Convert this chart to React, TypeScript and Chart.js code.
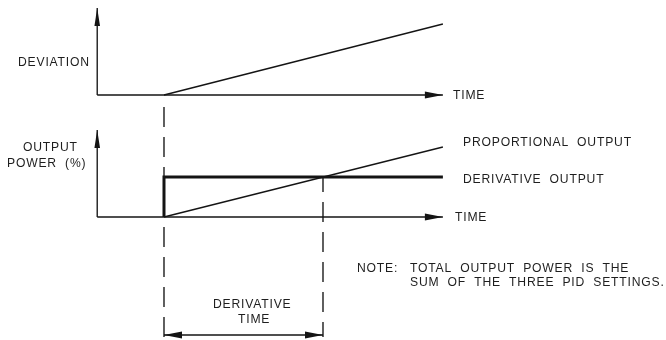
import React, { useEffect, useRef } from "react";
import { Chart, registerables } from "chart.js";

Chart.register(...registerables);

// ---- data (time units; derivative time = 5) ----
const derivativeTime = 5;
const timeAxisStart = -2.1;
const timeAxisEnd = 8.77;
const deviationAxisTop = 8.7;
const outputAxisTop = 87;
const deviation = [
  { x: 0, y: 0 },
  { x: 8.77, y: 7.1 },
];
const proportionalOutput = [
  { x: 0, y: 0 },
  { x: 8.77, y: 70 },
];
const derivativeOutput = [
  { x: 0, y: 0 },
  { x: 0, y: 40 },
  { x: 8.77, y: 40 },
];
const guideTop = 110;
const guideBottom = -120;
const dimensionLevel = -118;

// ---- text labels ----
const textLabels = [
  { text: "DEVIATION", x: 18, y: 62 },
  { text: "TIME", x: 453, y: 95 },
  { text: "OUTPUT", x: 23, y: 146.5 },
  { text: "POWER (%)", x: 7, y: 163 },
  { text: "PROPORTIONAL OUTPUT", x: 463, y: 142 },
  { text: "DERIVATIVE OUTPUT", x: 463, y: 179 },
  { text: "TIME", x: 455, y: 217 },
  { text: "NOTE:", x: 357, y: 268 },
  { text: "TOTAL OUTPUT POWER IS THE", x: 410, y: 268 },
  { text: "SUM OF THE THREE PID SETTINGS.", x: 410, y: 282 },
  { text: "DERIVATIVE", x: 213, y: 303.5 },
  { text: "TIME", x: 238, y: 318.5 },
];

const INK = "#141414";

const line = (data: { x: number; y: number }[], axis: string, extra: any = {}) => ({
  data,
  yAxisID: axis,
  showLine: true,
  borderColor: INK,
  borderWidth: 1.35,
  pointRadius: 0,
  fill: false,
  tension: 0,
  ...extra,
});

const arrowPlugin = {
  id: "arrows",
  afterDatasetsDraw(chart: any) {
    const ctx = chart.ctx;
    const sx = chart.scales.x;
    const arrows = [
      { x: timeAxisEnd, y: 0, axis: "yDev", dir: "right" },
      { x: timeAxisStart, y: deviationAxisTop, axis: "yDev", dir: "up" },
      { x: timeAxisEnd, y: 0, axis: "yOut", dir: "right" },
      { x: timeAxisStart, y: outputAxisTop, axis: "yOut", dir: "up" },
      { x: 0, y: dimensionLevel, axis: "yOut", dir: "left" },
      { x: derivativeTime, y: dimensionLevel, axis: "yOut", dir: "right" },
    ];
    ctx.save();
    ctx.fillStyle = INK;
    for (const a of arrows) {
      const px = sx.getPixelForValue(a.x);
      const py = chart.scales[a.axis].getPixelForValue(a.y);
      const len = 18;
      const hw = a.dir === "up" ? 2.8 : 3.4;
      ctx.beginPath();
      if (a.dir === "right") {
        ctx.moveTo(px, py);
        ctx.lineTo(px - len, py - hw);
        ctx.lineTo(px - len, py + hw);
      } else if (a.dir === "left") {
        ctx.moveTo(px, py);
        ctx.lineTo(px + len, py - hw);
        ctx.lineTo(px + len, py + hw);
      } else {
        ctx.moveTo(px, py);
        ctx.lineTo(px - hw, py + len);
        ctx.lineTo(px + hw, py + len);
      }
      ctx.closePath();
      ctx.fill();
    }
    ctx.restore();
  },
};

const textPlugin = {
  id: "texts",
  afterDraw(chart: any) {
    const ctx = chart.ctx;
    ctx.save();
    ctx.fillStyle = "#1e1e1e";
    ctx.font = "13.5px 'Liberation Sans', Arial, sans-serif";
    ctx.textBaseline = "middle";
    ctx.textAlign = "left";
    const sxScale = 0.9;
    (ctx as any).letterSpacing = (0.8 / sxScale).toFixed(2) + "px";
    (ctx as any).wordSpacing = (4 / sxScale).toFixed(2) + "px";
    for (const t of textLabels) {
      ctx.save();
      ctx.translate(t.x, t.y + 0.5);
      ctx.scale(sxScale, 1);
      ctx.fillText(t.text, 0, 0);
      ctx.restore();
    }
    ctx.restore();
  },
};

export default function App() {
  const ref = useRef<HTMLCanvasElement | null>(null);
  useEffect(() => {
    if (!ref.current) return;
    const chart = new Chart(ref.current, {
      type: "scatter",
      data: {
        datasets: [
          line([{ x: timeAxisStart, y: 0 }, { x: timeAxisEnd, y: 0 }], "yDev"),
          line([{ x: timeAxisStart, y: 0 }, { x: timeAxisStart, y: deviationAxisTop }], "yDev"),
          line(deviation, "yDev"),
          line([{ x: timeAxisStart, y: 0 }, { x: timeAxisEnd, y: 0 }], "yOut"),
          line([{ x: timeAxisStart, y: 0 }, { x: timeAxisStart, y: outputAxisTop }], "yOut"),
          line(proportionalOutput, "yOut"),
          line(derivativeOutput, "yOut", { borderWidth: 3, borderJoinStyle: "miter" }),
          line([{ x: 0, y: guideTop }, { x: 0, y: guideBottom }], "yOut", { borderDash: [20, 10] }),
          line([{ x: derivativeTime, y: 40 }, { x: derivativeTime, y: guideBottom }], "yOut", {
            borderDash: [20, 10],
            borderDashOffset: 5,
          }),
          line([{ x: 0, y: dimensionLevel }, { x: derivativeTime, y: dimensionLevel }], "yOut"),
        ],
      },
      options: {
        responsive: false,
        maintainAspectRatio: false,
        devicePixelRatio: 1,
        animation: false,
        layout: { padding: 0 },
        plugins: { legend: { display: false }, tooltip: { enabled: false } },
        scales: {
          x: { type: "linear", min: -5.157, max: 15.786, display: false },
          yDev: { type: "linear", min: -24.5, max: 9.5, display: false },
          yOut: { type: "linear", min: -123, max: 217, display: false },
        },
      } as any,
      plugins: [arrowPlugin, textPlugin],
    });
    return () => chart.destroy();
  }, []);
  return (
    <div style={{ position: "fixed", left: 0, top: 0, width: 666, height: 340, background: "#fff" }}>
      <canvas ref={ref} width={666} height={340} style={{ display: "block" }} />
    </div>
  );
}
